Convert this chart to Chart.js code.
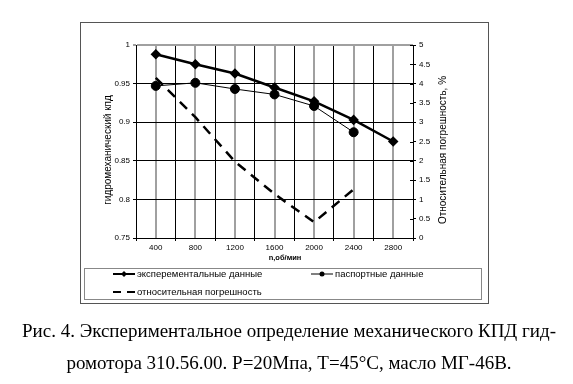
<!DOCTYPE html>
<html>
<head>
<meta charset="utf-8">
<script src="https://cdn.jsdelivr.net/npm/chart.js@4"></script>
<style>
  body { margin: 0; background: #fff; }
  #wrap { position: relative; width: 573px; height: 384px; overflow: hidden; }
  .cap { position: absolute; left: 0; width: 578px; text-align: center; font-family: "Liberation Serif", serif; font-size: 19px; color: #000; white-space: nowrap; }
</style>
</head>
<body>
<div id="wrap">
  <canvas id="kpdChart" width="573" height="384"></canvas>
  <div class="cap" style="top:320px;">Рис. 4. Экспериментальное определение механического КПД гид-</div>
  <div class="cap" style="top:352px;">ромотора 310.56.00. P=20Мпа, T=45°C, масло МГ-46В.</div>
</div>
<script>
// n, об/мин
const speeds = ['400', '800', '1200', '1600', '2000', '2400', '2800'];
// экспериментальные данные (левая ось)
const expEff = [0.988, 0.975, 0.963, 0.945, 0.927, 0.903, 0.875];
// паспортные данные (левая ось)
const passEff = [0.947, 0.951, 0.943, 0.936, 0.921, 0.887, null];
// относительная погрешность, % (правая ось)
const relError = [4.15, 3.13, 1.98, 1.14, 0.41, 1.26, null];

const FONT = '"Liberation Sans", Arial, sans-serif';
const fmt = v => String(+Number(v).toFixed(2));

// titles, legend box, frame - drawn by hand like the excel original
const decorPlugin = {
  id: 'decor',
  afterDraw(chart) {
    const ctx = chart.ctx;
    ctx.save();
    // outer frame
    ctx.strokeStyle = '#555';
    ctx.lineWidth = 1;
    ctx.strokeRect(80.5, 22.5, 408, 281);

    // inner tick marks of right axis
    const y1 = chart.scales.y1;
    ctx.strokeStyle = '#000';
    ctx.beginPath();
    y1.ticks.forEach(t => {
      const py = Math.round(y1.getPixelForValue(t.value)) + 0.5;
      ctx.moveTo(y1.left - 3, py);
      ctx.lineTo(y1.left, py);
    });
    ctx.stroke();

    // axis titles
    ctx.fillStyle = '#000';
    ctx.textAlign = 'center';
    ctx.textBaseline = 'middle';
    ctx.font = '10px ' + FONT;
    ctx.save();
    ctx.translate(108, 150);
    ctx.rotate(-Math.PI / 2);
    ctx.fillText('гидромеханический кпд', 0, 0);
    ctx.restore();
    ctx.save();
    ctx.translate(443, 150);
    ctx.rotate(-Math.PI / 2);
    ctx.fillText('Относительная погрешность, %', 0, 0);
    ctx.restore();
    ctx.font = 'bold 7.5px ' + FONT;
    ctx.fillText('n,об/мин', 285, 258);

    // legend
    ctx.strokeStyle = '#888';
    ctx.strokeRect(84.5, 268.5, 397, 31);
    const items = [
      { ds: chart.data.datasets[0], x: 113, y: 274 },
      { ds: chart.data.datasets[1], x: 311, y: 274 },
      { ds: chart.data.datasets[2], x: 113, y: 292 }
    ];
    ctx.font = '9.5px ' + FONT;
    ctx.textAlign = 'left';
    items.forEach(it => {
      const ds = it.ds;
      ctx.strokeStyle = '#000';
      ctx.lineWidth = Math.min(ds.borderWidth, 2);
      ctx.setLineDash(ds.borderDash ? [8, 6] : []);
      ctx.beginPath();
      ctx.moveTo(it.x, it.y);
      ctx.lineTo(it.x + 22, it.y);
      ctx.stroke();
      ctx.setLineDash([]);
      if (ds.pointRadius > 0) {
        ctx.fillStyle = '#000';
        ctx.beginPath();
        if (ds.pointStyle === 'rectRot') {
          ctx.moveTo(it.x + 11, it.y - 3);
          ctx.lineTo(it.x + 14, it.y);
          ctx.lineTo(it.x + 11, it.y + 3);
          ctx.lineTo(it.x + 8, it.y);
        } else {
          ctx.arc(it.x + 11, it.y, 2.5, 0, Math.PI * 2);
        }
        ctx.fill();
      }
      ctx.fillStyle = '#000';
      ctx.fillText(ds.label, it.x + 24, it.y);
    });
    ctx.restore();
  }
};

new Chart(document.getElementById('kpdChart'), {
  type: 'line',
  data: {
    labels: speeds,
    datasets: [
      {
        label: 'эксперементальные данные',
        data: expEff,
        yAxisID: 'y',
        borderColor: '#000',
        backgroundColor: '#000',
        borderWidth: 2.5,
        pointStyle: 'rectRot',
        pointRadius: 3.5,
        tension: 0
      },
      {
        label: 'паспортные данные',
        data: passEff,
        yAxisID: 'y',
        borderColor: '#000',
        backgroundColor: '#000',
        borderWidth: 1,
        pointStyle: 'circle',
        pointRadius: 4.5,
        tension: 0
      },
      {
        label: 'относительная погрешность',
        data: relError,
        yAxisID: 'y1',
        borderColor: '#000',
        borderWidth: 2.5,
        borderDash: [10, 7],
        pointRadius: 0,
        tension: 0
      }
    ]
  },
  options: {
    responsive: false,
    animation: false,
    devicePixelRatio: 1,
    layout: { padding: { top: 45, left: 0, right: 0, bottom: 0 } },
    plugins: {
      legend: { display: false },
      tooltip: { enabled: false }
    },
    scales: {
      x: {
        type: 'category',
        position: 'bottom',
        offset: true,
        grid: { offset: true, color: '#000', lineWidth: 1, tickLength: 3 },
        border: { color: '#000' },
        ticks: { color: '#000', font: { size: 8, family: FONT }, padding: 2, maxRotation: 0, autoSkip: false },
        afterFit: s => { s.height = 146; }
      },
      xc: {
        type: 'category',
        position: 'top',
        offset: true,
        grid: { offset: false, color: '#a0a0a0', lineWidth: 2, drawTicks: false },
        border: { display: false },
        ticks: { display: false },
        afterFit: s => { s.height = 0; }
      },
      y: {
        position: 'left',
        min: 0.75,
        max: 1,
        ticks: { stepSize: 0.05, color: '#000', font: { size: 8, family: FONT }, padding: 3, callback: fmt },
        grid: {
          color: c => (c.tick && c.tick.value === 1 ? '#a0a0a0' : '#000'),
          lineWidth: c => (c.tick && c.tick.value === 1 ? 2 : 1),
          tickLength: 3
        },
        border: { color: '#000' },
        afterFit: s => { s.width = 136; }
      },
      y1: {
        position: 'right',
        min: 0,
        max: 5,
        ticks: { stepSize: 0.5, color: '#000', font: { size: 8, family: FONT }, padding: 3, callback: fmt },
        grid: { drawOnChartArea: false, color: '#000', tickLength: 3 },
        border: { color: '#000' },
        afterFit: s => { s.width = 160; }
      }
    }
  },
  plugins: [decorPlugin]
});
</script>
</body>
</html>
